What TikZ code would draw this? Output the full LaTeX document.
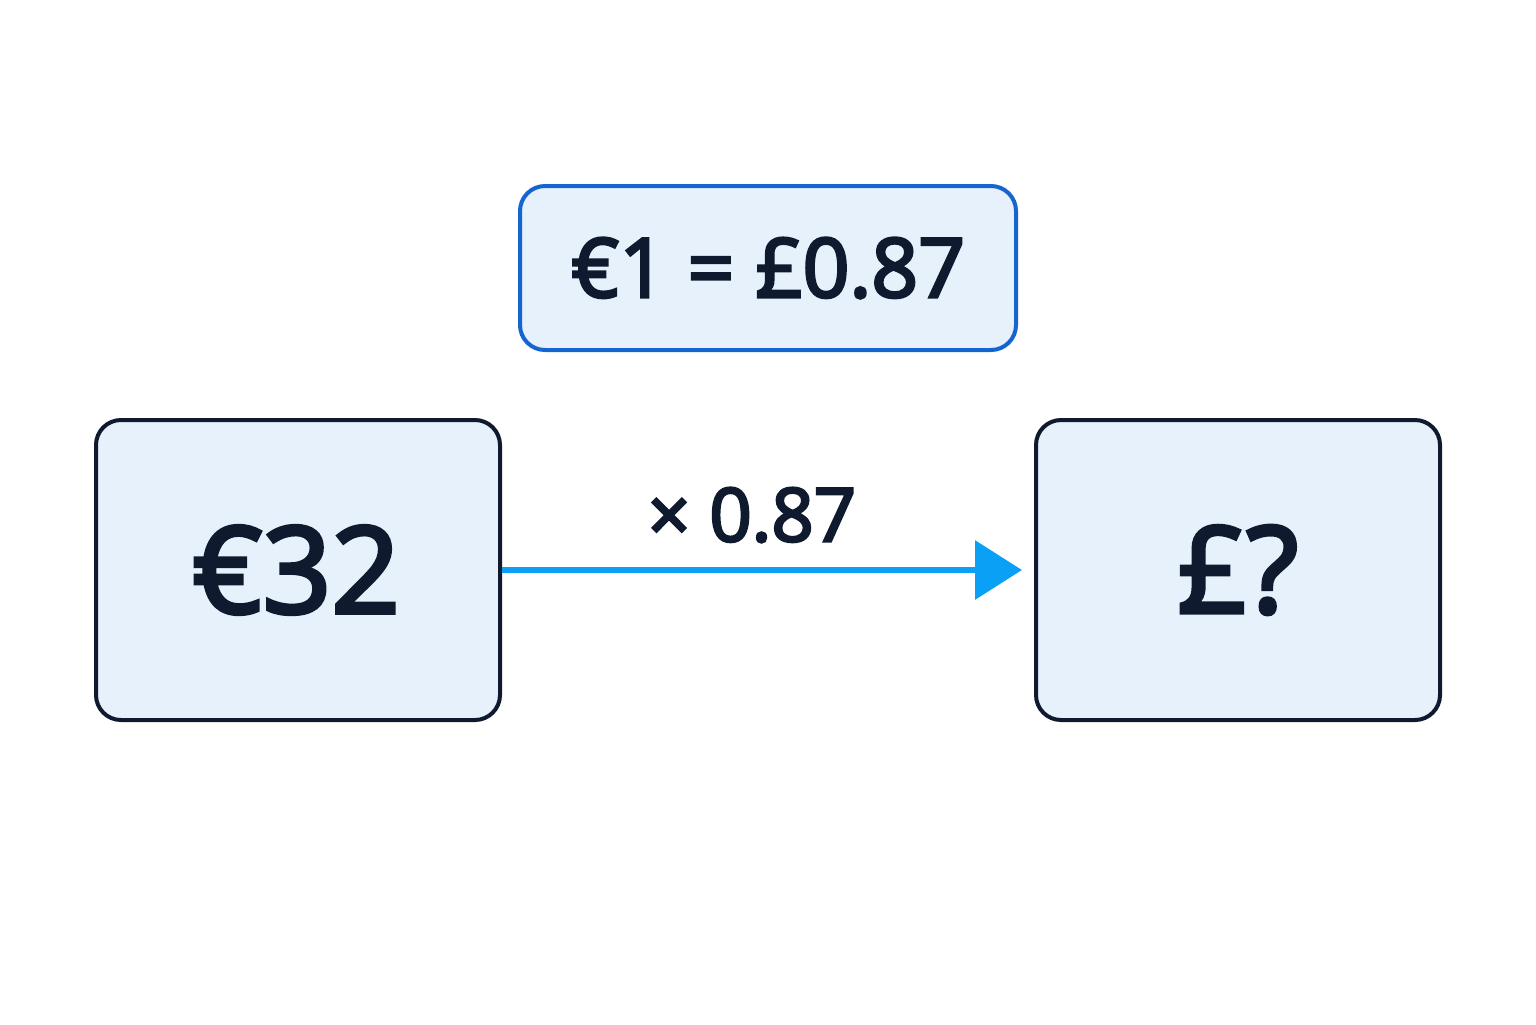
\documentclass[tikz,border=0pt]{standalone}
\usepackage{fontspec}
\setmainfont{Open Sans}[FakeBold=3.5]
\usetikzlibrary{arrows.meta}
\definecolor{boxfill}{HTML}{E6F1FC}
\definecolor{navy}{HTML}{0F1A2E}
\definecolor{rateblue}{HTML}{1565D0}
\definecolor{arrowblue}{HTML}{0AA0F5}
\tikzset{
  valbox/.style={draw=navy, line width=2pt, fill=boxfill, rounded corners=12.5pt,
    minimum width=202pt, minimum height=150pt, inner sep=0pt, text=navy,
    font=\fontsize{60}{70}\selectfont},
  ratebox/.style={draw=rateblue, line width=2pt, fill=boxfill, rounded corners=12.5pt,
    minimum width=248pt, minimum height=82pt, inner sep=0pt, text=navy,
    font=\fontsize{41}{50}\selectfont},
  conv/.style={draw=arrowblue, line width=3.2pt, -{Triangle[length=23.5pt,width=29pt]}},
  lbl/.style={text=navy, font=\fontsize{37}{44}\selectfont, inner sep=0pt}
}
\begin{document}
\begin{tikzpicture}[x=0.5pt,y=-0.5pt]
\useasboundingbox[fill=white] (0,0) rectangle (1536,1024);
\node[ratebox] (rate) at (768,268) {€1 = £0.87};
\node[valbox] (a) at (298,570) {\hspace*{-2pt}€32};
\node[valbox] (b) at (1238,570) {£?};
\draw[conv, shorten >=6pt] (a.east) -- (b.west);
\node[lbl] (f) at (752,515) {× 0.87};
\end{tikzpicture}
\end{document}
